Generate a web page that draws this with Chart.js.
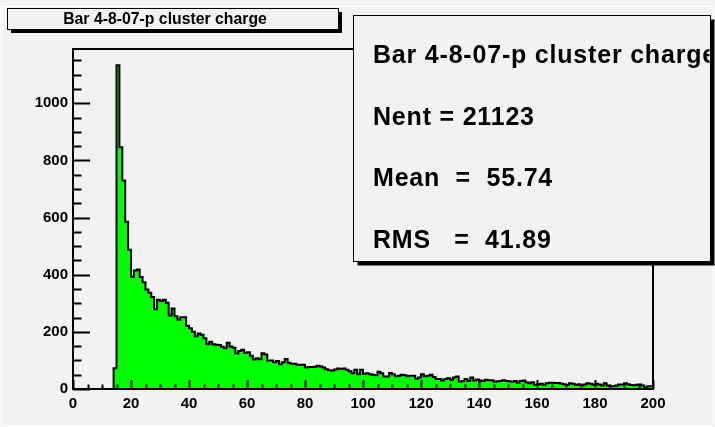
<!DOCTYPE html>
<html>
<head>
<meta charset="utf-8">
<script src="https://cdn.jsdelivr.net/npm/chart.js@4/dist/chart.umd.min.js"></script>
<style>
  html, body { margin: 0; padding: 0; background: #f2f2f2; }
  #wrap { width: 715px; height: 427px; }
</style>
</head>
<body>
<div id="wrap"><canvas id="chart" width="715" height="427"></canvas></div>
<script>
// histogram: 200 bins of width 1 from 0 to 200
const title = 'Bar 4-8-07-p cluster charge';
const xMin = 0;
const xMax = 200;
const binWidth = 1;
const yMax = 1190;
const xTicks = [0, 20, 40, 60, 80, 100, 120, 140, 160, 180, 200];
const yTicks = [0, 200, 400, 600, 800, 1000];
const statsLines = ['Bar 4-8-07-p cluster charge', 'Nent = 21123', 'Mean  =  55.74', 'RMS   =  41.89'];

const counts = [
  0, 0, 0, 0, 0, 0, 0, 0, 0, 0, 0, 0, 0, 0, 0,
  73, 1133, 846, 730, 585, 487,
  393, 415, 418, 392, 374, 348, 337, 322, 279, 312,
  308, 312, 302, 257, 282, 255, 242, 251, 251, 221,
  213, 200, 185, 194, 190, 178, 157, 165, 157, 155,
  154, 148, 143, 162, 149, 144, 124, 133, 137, 127,
  129, 116, 103, 108, 104, 125, 121, 100, 100, 94,
  98, 87, 94, 105, 92, 88, 88, 85, 85, 85,
  75, 77, 77, 78, 81, 79, 75, 69, 66, 65,
  68, 72, 70, 72, 67, 62, 55, 67, 52, 67,
  53, 55, 52, 50, 48, 60, 55, 44, 44, 56,
  52, 45, 46, 50, 48, 45, 46, 46, 36, 40,
  52, 45, 46, 50, 42, 35, 35, 30, 35, 38,
  32, 40, 44, 25, 28, 35, 28, 40, 30, 33,
  30, 28, 32, 31, 31, 25, 27, 28, 31, 28,
  27, 25, 28, 22, 28, 30, 24, 20, 24, 15,
  16, 18, 15, 20, 22, 22, 21, 21, 18, 17,
  14, 20, 18, 14, 17, 12, 16, 20, 18, 15,
  18, 16, 12, 20, 12, 10, 10, 12, 16, 16,
  20, 17, 14, 13, 15, 16, 12, 5, 10
];

const points = counts.map((c, i) => ({ x: xMin + i * binWidth, y: c }));
points.push({ x: xMax, y: counts[counts.length - 1] });

const FONT = '"Liberation Sans", Arial, Helvetica, sans-serif';

// frame, inward ticks, title box and stats box, ROOT style
const rootDecor = {
  id: 'rootDecor',
  afterDraw(chart) {
    const { ctx, chartArea: a, scales } = chart;
    const xs = scales.x, ys = scales.y;
    ctx.save();

    // pad bevel
    ctx.strokeStyle = '#ffffff';
    ctx.lineWidth = 1;
    ctx.strokeRect(1.5, 6.5, 712, 419);

    // frame
    ctx.strokeStyle = '#000';
    ctx.lineWidth = 2;
    ctx.strokeRect(a.left, a.top, a.right - a.left, a.bottom - a.top);

    // x ticks (inside, upward), minor every 5
    ctx.beginPath();
    for (let v = xMin; v <= xMax; v += 5) {
      const px = Math.round(xs.getPixelForValue(v)) + 0.5;
      const len = xTicks.includes(v) ? 9 : 4.5;
      ctx.moveTo(px, a.bottom);
      ctx.lineTo(px, a.bottom - len);
    }
    // y ticks (inside, rightward), minor every 50
    for (let v = 0; v <= yMax; v += 50) {
      const py = Math.round(ys.getPixelForValue(v)) + 0.5;
      const len = yTicks.includes(v) ? 17 : 8.5;
      ctx.moveTo(a.left, py);
      ctx.lineTo(a.left + len, py);
    }
    ctx.stroke();

    // title box
    ctx.fillStyle = '#000';
    ctx.fillRect(11, 12, 331, 21);
    ctx.fillStyle = '#f2f2f2';
    ctx.fillRect(7.5, 8.5, 331, 21);
    ctx.lineWidth = 1;
    ctx.strokeStyle = '#000';
    ctx.strokeRect(7.5, 8.5, 331, 21);
    ctx.fillStyle = '#000';
    ctx.font = 'bold 15.8px ' + FONT;
    ctx.textAlign = 'center';
    ctx.textBaseline = 'middle';
    ctx.fillText(title, 165, 19.5);

    // stats box
    const bx = 353.5, by = 15.5, bw = 357, bh = 246;
    ctx.fillStyle = '#000';
    ctx.fillRect(bx + 4, by + 4, bw, bh);
    ctx.fillStyle = '#f2f2f2';
    ctx.fillRect(bx, by, bw, bh);
    ctx.strokeStyle = '#000';
    ctx.lineWidth = 1;
    ctx.strokeRect(bx, by, bw, bh);
    ctx.save();
    ctx.beginPath();
    ctx.rect(bx, by, bw - 1, bh);
    ctx.clip();
    ctx.fillStyle = '#000';
    ctx.font = 'bold 25px ' + FONT;
    ctx.letterSpacing = '0.8px';
    ctx.textAlign = 'left';
    ctx.textBaseline = 'middle';
    const lineY = [56, 118, 179, 241];
    statsLines.forEach((t, i) => ctx.fillText(t, 373, lineY[i]));
    ctx.restore();

    ctx.restore();
  }
};

window.addEventListener('DOMContentLoaded', () => {
  const ctx = document.getElementById('chart').getContext('2d');
  const tickFont = { family: FONT, size: 15, weight: 'bold' };

  new Chart(ctx, {
    type: 'line',
    data: {
      datasets: [{
        label: title,
        data: points,
        stepped: 'after',
        borderColor: '#000',
        borderWidth: 2,
        backgroundColor: '#00ff00',
        fill: 'origin',
        pointRadius: 0,
        tension: 0
      }]
    },
    options: {
      responsive: false,
      animation: false,
      devicePixelRatio: 1,
      layout: { padding: { top: 49, right: 62, left: 0, bottom: 0 } },
      plugins: { legend: { display: false }, tooltip: { enabled: false } },
      scales: {
        x: {
          type: 'linear',
          min: xMin,
          max: xMax,
          afterBuildTicks: s => { s.ticks = xTicks.map(v => ({ value: v })); },
          ticks: { color: '#000', font: tickFont, padding: 6, maxRotation: 0, autoSkip: false, callback: v => String(v) },
          grid: { display: false, drawTicks: false },
          border: { display: false },
          afterFit: s => { s.height = 38; }
        },
        y: {
          min: 0,
          max: yMax,
          afterBuildTicks: s => { s.ticks = yTicks.map(v => ({ value: v })); },
          ticks: { color: '#000', font: tickFont, padding: 5, autoSkip: false, callback: v => String(v) },
          grid: { display: false, drawTicks: false },
          border: { display: false },
          afterFit: s => { s.width = 73; }
        }
      }
    },
    plugins: [rootDecor]
  });
});
</script>
</body>
</html>
